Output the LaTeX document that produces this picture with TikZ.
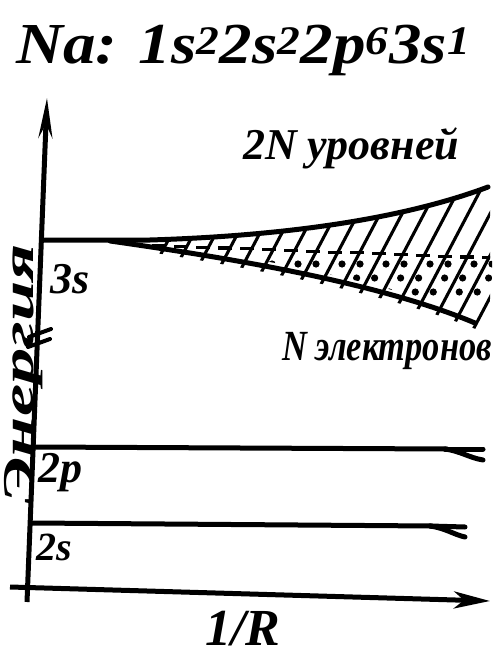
\documentclass[tikz,border=0pt]{standalone}
\usepackage{fontspec}
\setmainfont{Liberation Serif}
\usetikzlibrary{arrows.meta}
\begin{document}
\begin{tikzpicture}[x=1pt,y=-1pt,
  lvl/.style={line width=5pt, line cap=round},
  axisline/.style={line width=5pt},
  hatch/.style={line width=3.1pt},
  lbl/.style={inner sep=0pt},
  hand/.style={font=\fontsize{#1}{#1}\selectfont\bfseries\itshape}]
\useasboundingbox (0,0) rectangle (498,655);

% title
\node[lbl, hand=58, anchor=base west] (title) at (16,64)
  {\scalebox{1.12}[1]{Na: 1s\textsuperscript{2}2s\textsuperscript{2}2p\textsuperscript{6}3s\textsuperscript{1}}};

% axes
\coordinate (ybot) at (27,602);
\coordinate (ytip) at (47,98);
\coordinate (xbot) at (10,587);
\coordinate (xtip) at (490,601);
\draw[axisline, -{Stealth[length=40pt,width=14pt,inset=14pt]}] (ybot) -- (ytip);
\draw[axisline, -{Stealth[length=36pt,width=17pt,inset=10pt]}] (xbot) -- (xtip);

% axis break
\draw[line width=4pt, line cap=round] (29,337) -- (51,329) (28,347) -- (50,339);

% axis labels
\node[lbl, hand=52, anchor=base west] (invR) at (205,645) {1/R};
\node[lbl, hand=44, anchor=base, rotate=90] (energy) at (33,374)
  {\scalebox{1.65}[1]{Энергия}};

% 3s band
\draw[lvl] (43,240) -- (150,240)
  .. controls (280,236) and (400,220) .. (488,187);
\draw[lvl] (110,241) .. controls (230,258) and (380,283) .. (475,323);

\begin{scope}
  \clip (110,240) -- (150,240) .. controls (280,236) and (400,220) .. (488,187)
        -- (490,187) -- (490,335) -- (478,330)
        .. controls (380,290) and (230,264) .. (110,246) -- cycle;
  \foreach \k in {0,...,17} {
    \pgfmathsetmacro\xo{113+22*\k}
    \draw[hatch] (\xo,345) -- ++(85,-161.5);
    \pgfmathsetmacro\xm{\xo+46.3}
    \pgfmathsetmacro\ym{246+(\xm-170)*0.037}
    \draw[hatch] (\xm-7,\ym) -- (\xm+7,\ym);
  }
\end{scope}

\begin{scope}
  \clip (238,0) rectangle (498,400);
  \clip (170,249) -- (492,261) -- (492,318) -- (475,318)
        .. controls (380,278) and (230,253) .. (110,236) -- cycle;
  \foreach \k in {4,...,17} {
    \foreach \r in {1,2,3} {
      \pgfmathsetmacro\yy{250+14*\r}
      \pgfmathsetmacro\xx{113+22*\k+11+(340-\yy)/1.9+mod(\r+\k,2)*4-2}
      \fill (\xx,\yy) circle (3.6pt);
    }
  }
\end{scope}

\node[lbl, hand=44, anchor=base west] (threeS) at (50,293) {3s};
\node[lbl, hand=44, anchor=base west] (levels) at (243,160) {2N уровней};
\node[lbl, hand=43, anchor=base west] (electrons) at (282,360)
  {\scalebox{0.8}[1]{N электронов}};

% 2p level
\draw[lvl] (35,447) -- (447,449);
\draw[lvl] (445,449) -- (483,449);
\draw[lvl] (445,449) .. controls (460,451) and (470,458) .. (483,460);
\node[lbl, hand=44, anchor=base west] (twoP) at (38,482) {2p};

% 2s level
\draw[lvl] (32,523) -- (432,526);
\draw[lvl] (430,526) -- (465,527);
\draw[lvl] (430,526) .. controls (445,528) and (455,535) .. (465,537);
\node[lbl, hand=40, anchor=base west] (twoS) at (36,560) {2s};
\end{tikzpicture}
\end{document}
